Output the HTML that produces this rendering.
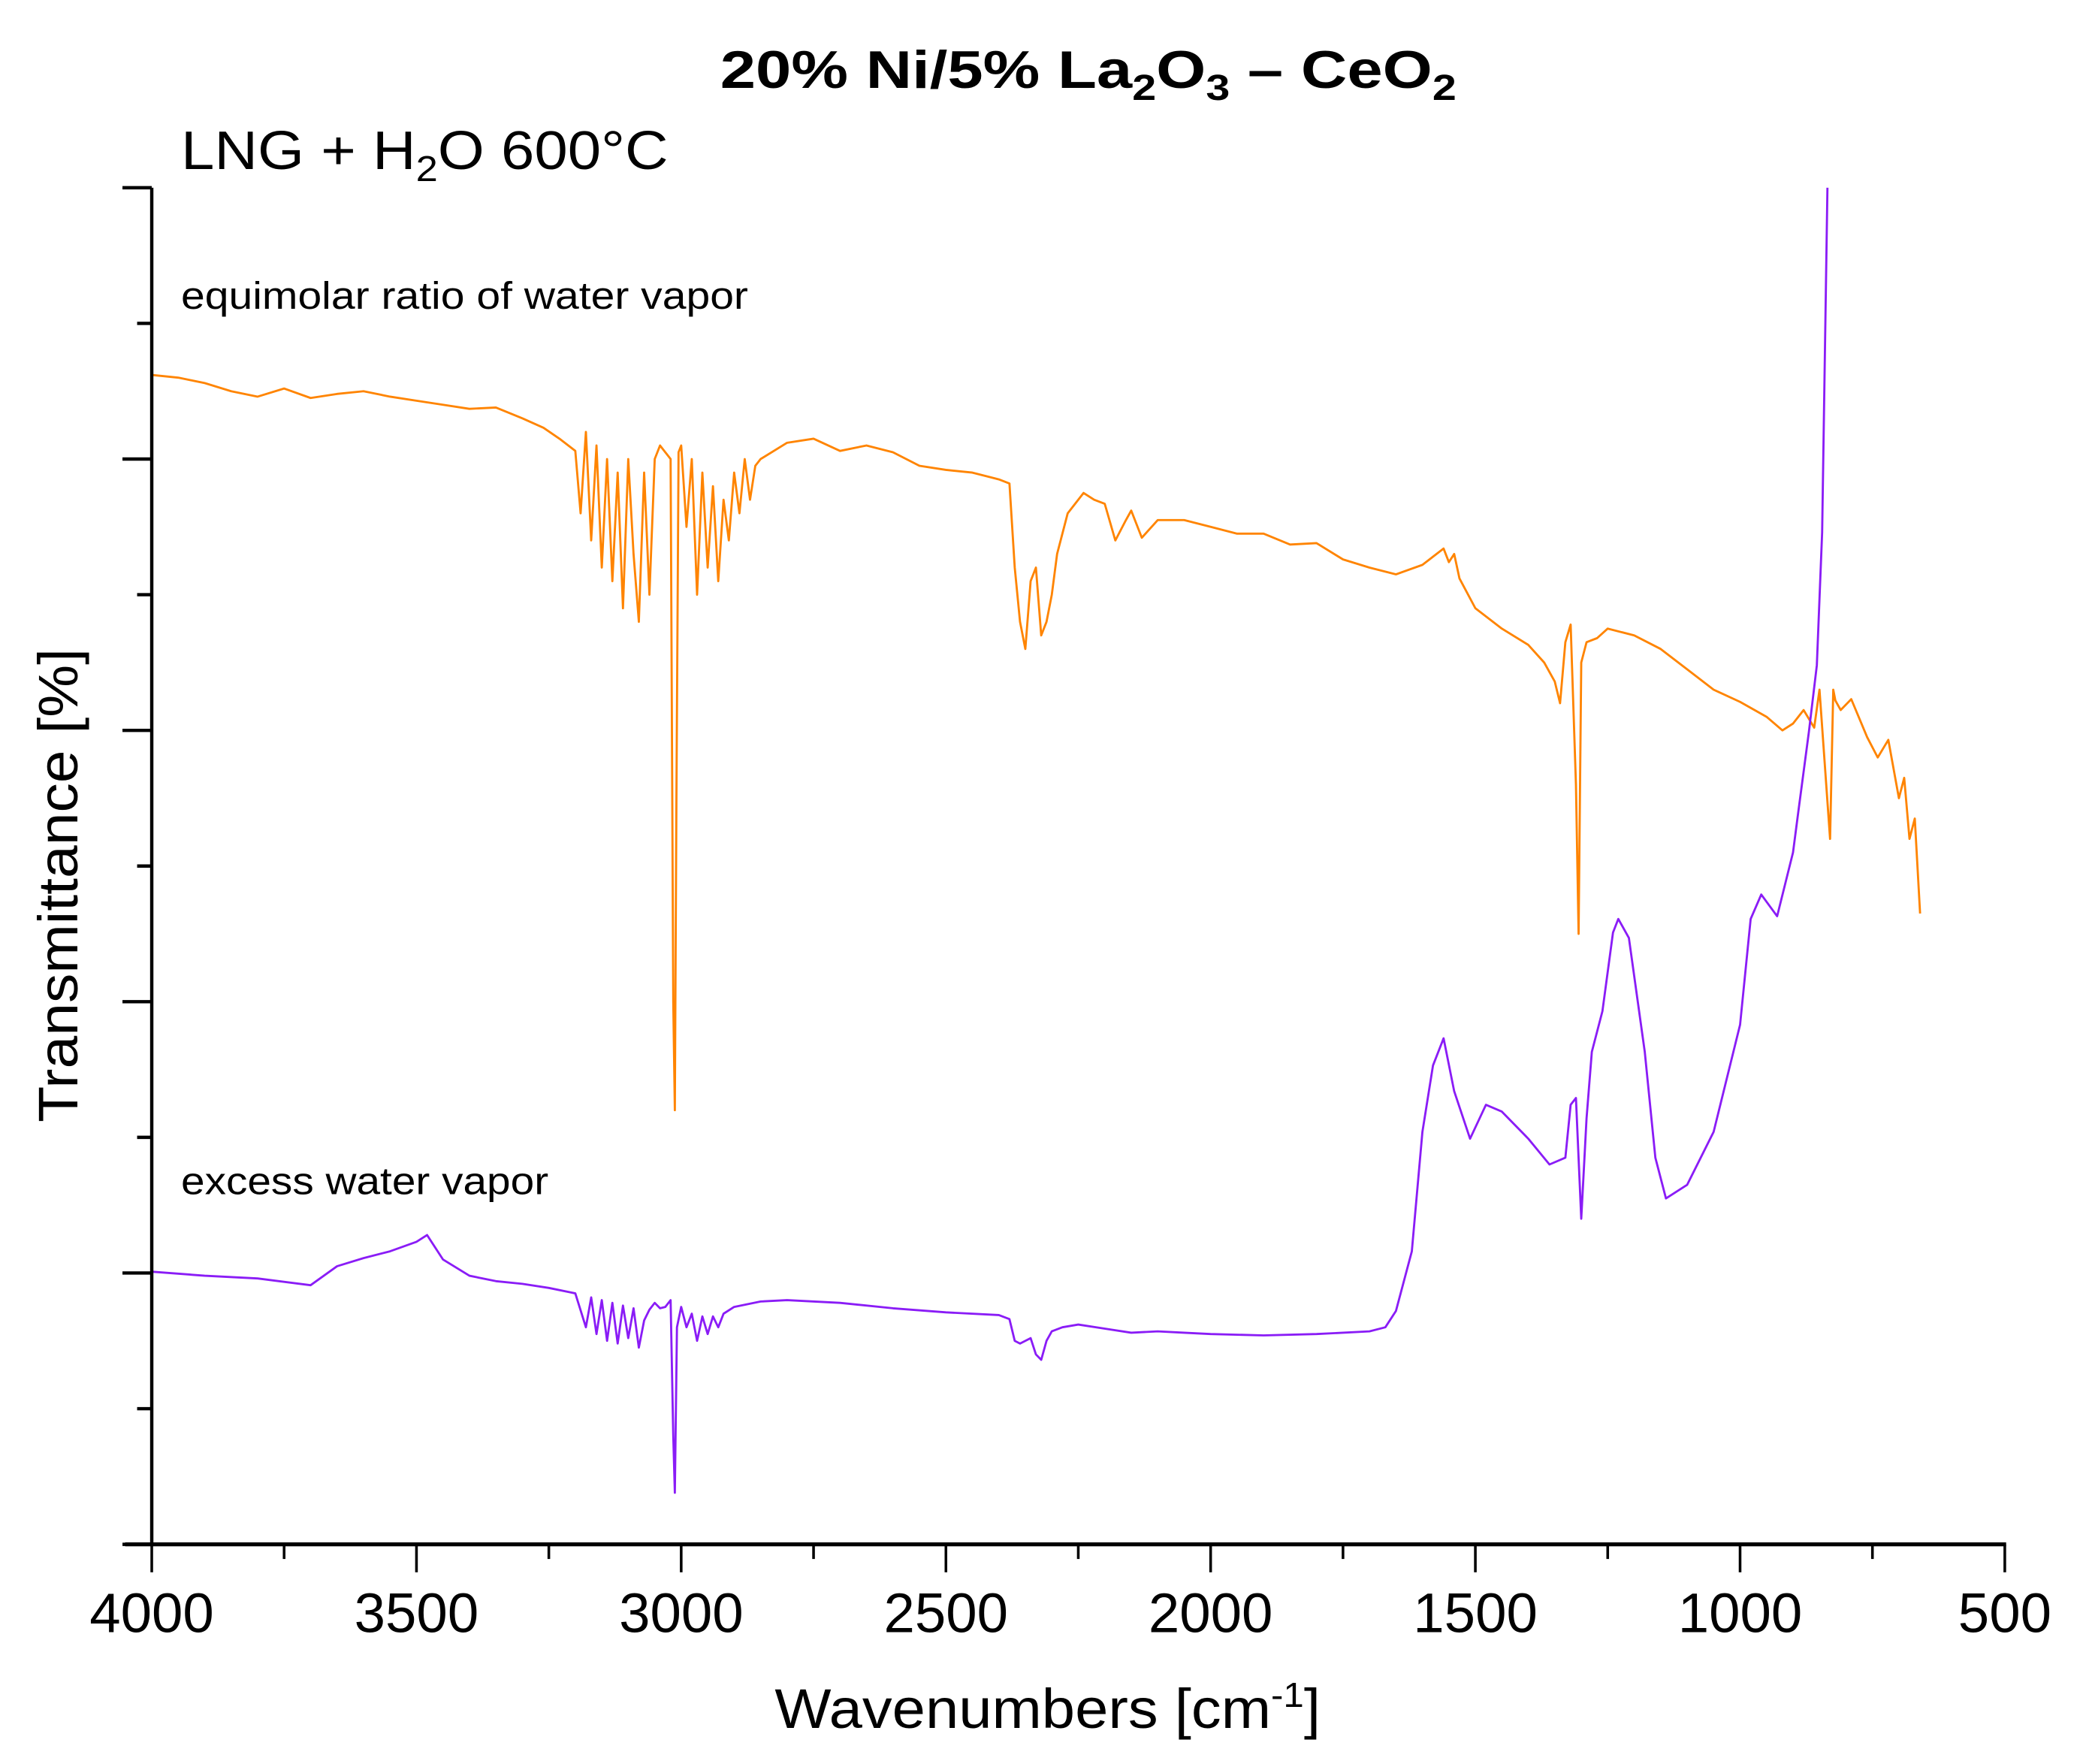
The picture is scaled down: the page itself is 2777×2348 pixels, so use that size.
<!DOCTYPE html>
<html><head><meta charset="utf-8"><style>
html,body{margin:0;padding:0;background:#fff;}
svg{display:block;}
text{font-family:"Liberation Sans",Arial,sans-serif;fill:#000;}
</style></head><body>
<svg id="chart" width="2777" height="2348" viewBox="0 0 1567 1325" preserveAspectRatio="none" xmlns="http://www.w3.org/2000/svg">
<text x="541" y="66" font-size="40" font-weight="bold" textLength="553" lengthAdjust="spacingAndGlyphs">20% Ni/5% La<tspan font-size="27" dy="9">2</tspan><tspan dy="-9">O</tspan><tspan font-size="27" dy="9">3</tspan><tspan dy="-9"> – CeO</tspan><tspan font-size="27" dy="9">2</tspan></text>
<text x="136" y="127" font-size="41" textLength="366" lengthAdjust="spacingAndGlyphs">LNG + H<tspan font-size="27" dy="9">2</tspan><tspan dy="-9">O 600°C</tspan></text>
<text x="136" y="232" font-size="29" textLength="426" lengthAdjust="spacingAndGlyphs">equimolar ratio of water vapor</text>
<text x="136" y="897" font-size="29" textLength="276" lengthAdjust="spacingAndGlyphs">excess water vapor</text>
<text transform="translate(58,665) rotate(-90)" font-size="42" text-anchor="middle" textLength="356" lengthAdjust="spacingAndGlyphs">Transmittance [%]</text>
<text x="582" y="1298" font-size="42" textLength="410" lengthAdjust="spacingAndGlyphs">Wavenumbers [cm<tspan font-size="26" dy="-16">-1</tspan><tspan dy="16">]</tspan></text>
<g id="plot"></g>
</svg>
<script>
const xTicks = [4000, 3500, 3000, 2500, 2000, 1500, 1000, 500];
const xTickLabels = ["4000","3500","3000","2500","2000","1500","1000","500"];
const yTicks = [0, 20, 40, 60, 80, 100];
const orangeWn = [4000,3950,3900,3850,3800,3750,3700,3650,3600,3550,3500,3450,3400,3350,3300,3260,3230,3200,3190,3180,3170,3160,3150,3140,3130,3120,3110,3100,3090,3080,3070,3060,3050,3040,3030,3020,3015,3012,3009,3005,3000,2990,2980,2970,2960,2950,2940,2930,2920,2910,2900,2890,2880,2870,2860,2850,2800,2750,2700,2650,2600,2550,2500,2450,2400,2380,2370,2360,2350,2340,2330,2320,2310,2300,2290,2270,2240,2220,2200,2180,2160,2150,2130,2100,2050,2000,1950,1900,1850,1800,1750,1700,1650,1600,1560,1550,1540,1530,1500,1450,1400,1370,1350,1340,1330,1320,1310,1305,1300,1290,1270,1250,1200,1150,1100,1050,1000,950,920,900,880,860,850,830,824,820,810,790,760,740,720,700,690,680,670,660,652];
const orangeT = [86.2,86,85.6,85,84.6,85.2,84.5,84.8,85,84.6,84.3,84,83.7,83.8,83,82.3,81.5,80.6,76,82,74,81,72,80,71,79,69,80,73,68,79,70,80,81,80.5,80,40,32,55,80.5,81,75,80,70,79,72,78,71,77,74,79,76,80,77,79.5,80,81.2,81.5,80.6,81,80.5,79.5,79.2,79,78.5,78.2,72,68,66,71,72,67,68,70,73,76,77.5,77,76.7,74,75.5,76.2,74.2,75.5,75.5,75,74.5,74.5,73.7,73.8,72.6,72,71.5,72.2,73.4,72.4,73,71.2,69,67.5,66.3,65,63.6,62,66.5,67.8,56,45,65,66.5,66.8,67.5,67,66,64.5,63,62.1,61,60,60.5,61.5,60.2,63,52,63,62.2,61.5,62.3,59.5,58,59.3,55,56.5,52,53.5,46.5];
const purpleWn = [
  4000,3900,3800,3700,3650,3600,3550,3500,3480,3450,
  3400,3350,3300,3250,3200,3180,3170,3160,3150,3140,
  3130,3120,3110,3100,3090,3080,3070,3060,3050,3040,
  3030,3020,3015,3012,3008,3000,2990,2980,2970,2960,
  2950,2940,2930,2920,2900,2850,2800,2700,2600,2500,
  2400,2380,2370,2360,2340,2330,2320,2310,2300,2280,
  2250,2200,2150,2100,2050,2000,1900,1800,1700,1670,
  1650,1620,1600,1580,1560,1540,1510,1480,1450,1400,
  1360,1330,1320,1310,1300,1290,1280,1260,1240,1230,
  1210,1180,1160,1140,1100,1050,1000,980,960,930,
  900,890,870,855,845,835];
const purpleT = [
  20.1,19.8,19.6,19.1,20.5,21.1,21.6,22.3,22.8,21,
  19.8,19.4,19.2,18.9,18.5,16,18.2,15.5,18,15,
  17.8,14.8,17.6,15.2,17.4,14.5,16.5,17.3,17.8,17.4,
  17.5,18,8,3.8,16,17.5,16,17,15,16.8,
  15.5,16.8,16,17,17.5,17.9,18,17.8,17.4,17.1,
  16.9,16.6,15,14.8,15.2,14,13.6,15,15.7,16,
  16.2,15.9,15.6,15.7,15.6,15.5,15.4,15.5,15.7,16,
  17.2,21.6,30.4,35.3,37.3,33.4,29.9,32.4,31.9,29.9,
  28,28.5,32.4,32.9,24,31.4,36.3,39.3,45.1,46.1,
  44.7,36.3,28.5,25.5,26.5,30.4,38.3,46.1,47.9,46.3,
  51,54,59.9,64.8,74.6,100];
const plot = document.getElementById('plot');
const NS = 'http://www.w3.org/2000/svg';
const X0 = 114, X1 = 1506, Y0 = 1160, Y1 = 141;
function xScale(w){ return X0 + (4000 - w) / 3500 * (X1 - X0); }
function yScale(v){ return Y0 - v / 100 * (Y0 - Y1); }
function mk(tag, attrs){ const e = document.createElementNS(NS, tag); for (const k in attrs) e.setAttribute(k, attrs[k]); plot.appendChild(e); return e; }
function series(wn, t, color, name){
  let d = '';
  const n = Math.min(wn.length, t.length);
  for (let i = 0; i < n; i++) d += (i?'L':'M') + xScale(wn[i]).toFixed(2) + ',' + yScale(t[i]).toFixed(2);
  const p = mk('path', {d: d, fill: 'none', stroke: color, 'stroke-width': 1.6, 'stroke-linejoin': 'round'});
  
  
}
series(orangeWn, orangeT, '#FF8400', 'series-equimolar');
series(purpleWn, purpleT, '#8A1CF6', 'series-excess');
const ya = mk('line', {x1: X0, y1: Y1, x2: X0, y2: Y0 + 1.5, stroke: '#000', 'stroke-width': 2.5});


const xa = mk('line', {x1: X0 - 20, y1: Y0, x2: X1 + 1, y2: Y0, stroke: '#000', 'stroke-width': 3});


yTicks.forEach((v,i)=>{
  const t = mk('line', {x1: X0 - 22, y1: yScale(v), x2: X0, y2: yScale(v), stroke: '#000', 'stroke-width': 2.5});
  
  
  if (i < yTicks.length - 1) {
    const m = (v + yTicks[i+1]) / 2;
    const mt = mk('line', {x1: X0 - 11, y1: yScale(m), x2: X0, y2: yScale(m), stroke: '#000', 'stroke-width': 2.5});
    
    
  }
});
xTicks.forEach((w,i)=>{
  const t = mk('line', {x1: xScale(w), y1: Y0, x2: xScale(w), y2: Y0 + 21, stroke: '#000', 'stroke-width': 2});
  
  
  if (i < xTicks.length - 1) {
    const m = (w + xTicks[i+1]) / 2;
    const mt = mk('line', {x1: xScale(m), y1: Y0, x2: xScale(m), y2: Y0 + 11, stroke: '#000', 'stroke-width': 2});
    
    
  }
  const lb = mk('text', {x: xScale(w), y: 1226, 'font-size': 42, 'text-anchor': 'middle'});
  lb.textContent = xTickLabels[i];
  
  
});
</script>
</body></html>
